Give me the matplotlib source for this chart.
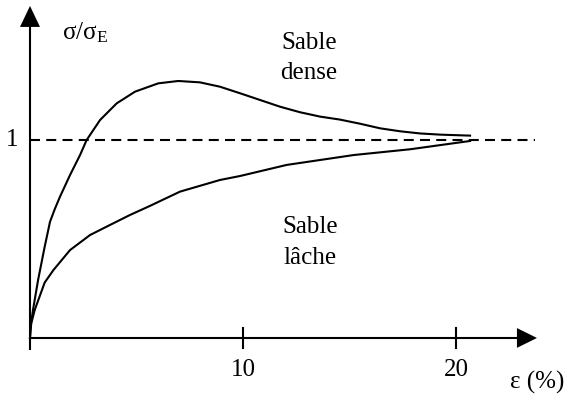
import matplotlib
matplotlib.use('Agg')
import matplotlib.pyplot as plt

plt.rcParams['font.family'] = ['Liberation Serif', 'DejaVu Serif']
plt.rcParams['mathtext.fontset'] = 'custom'
plt.rcParams['mathtext.rm'] = 'Liberation Serif'

# strain (%) and normalised stress
eps_dense = [0, 0.03, 0.14, 0.38, 0.69, 0.94, 1.16, 1.41, 1.88, 2.35, 2.66, 3.29, 4.07, 4.93,
             6.02, 6.96, 7.98, 8.92, 9.86, 10.80, 11.74, 12.68, 13.62, 14.55, 15.50, 16.43,
             17.37, 18.31, 19.25, 20.66]
sig_dense = [0, 0.06, 0.141, 0.293, 0.461, 0.587, 0.650, 0.714, 0.823, 0.924, 1.0, 1.101, 1.185,
             1.244, 1.286, 1.298, 1.291, 1.269, 1.236, 1.202, 1.168, 1.140, 1.118, 1.103,
             1.082, 1.059, 1.044, 1.033, 1.027, 1.022]

eps_loose = [0, 0.02, 0.06, 0.22, 0.69, 1.10, 1.88, 2.82, 3.76, 4.69, 5.63, 7.04,
             8.92, 9.86, 12.05, 15.2, 17.84, 20.66]
sig_loose = [0, 0.03, 0.074, 0.141, 0.28, 0.343, 0.444, 0.52, 0.571, 0.621, 0.667, 0.739,
             0.798, 0.818, 0.874, 0.924, 0.953, 0.995]

xticks = [10, 20]
ref_level = 1

fig = plt.figure(figsize=(5.67, 3.94), dpi=100)
ax = fig.add_axes([0, 0, 1, 1])
ax.set_xlim(-1.408, 25.21)
ax.set_ylim(-0.283, 1.707)
ax.axis('off')

lw = 1.5
fs = 18
# axes with arrows
ax.plot([0, 0], [-0.055, 1.58], color='black', lw=lw)
ax.fill([-0.47, 0.47, 0], [1.571, 1.571, 1.677], color='black', lw=0)
ax.plot([0, 22.9], [0, 0], color='black', lw=lw)
ax.fill([22.86, 22.86, 23.8], [-0.05, 0.05, 0], color='black', lw=0)
for t in xticks:
    ax.plot([t, t], [-0.05, 0.05], color='black', lw=lw)
    ax.text(t, -0.16, str(t), ha='center', va='center', fontsize=fs)

ax.plot([0, 23.7], [ref_level, ref_level], color='black', lw=lw, dashes=(4.8, 3))
ax.text(-0.85, ref_level, '1', ha='center', va='center', fontsize=fs)

ax.plot(eps_dense, sig_dense, color='black', lw=lw, solid_joinstyle='round')
ax.plot(eps_loose, sig_loose, color='black', lw=lw, solid_joinstyle='round')

ax.text(1.5, 1.54, r'$\mathrm{σ/σ_E}$', ha='left', va='center', fontsize=fs)
ax.text(13.1, 1.49, 'Sable', ha='center', va='center', fontsize=fs)
ax.text(13.1, 1.338, 'dense', ha='center', va='center', fontsize=fs)
ax.text(13.15, 0.56, 'Sable', ha='center', va='center', fontsize=fs)
ax.text(13.15, 0.404, 'lâche', ha='center', va='center', fontsize=fs)
ax.text(23.8, -0.227, 'ε (%)', ha='center', va='center', fontsize=fs)

fig.savefig('out.png', dpi=100)
